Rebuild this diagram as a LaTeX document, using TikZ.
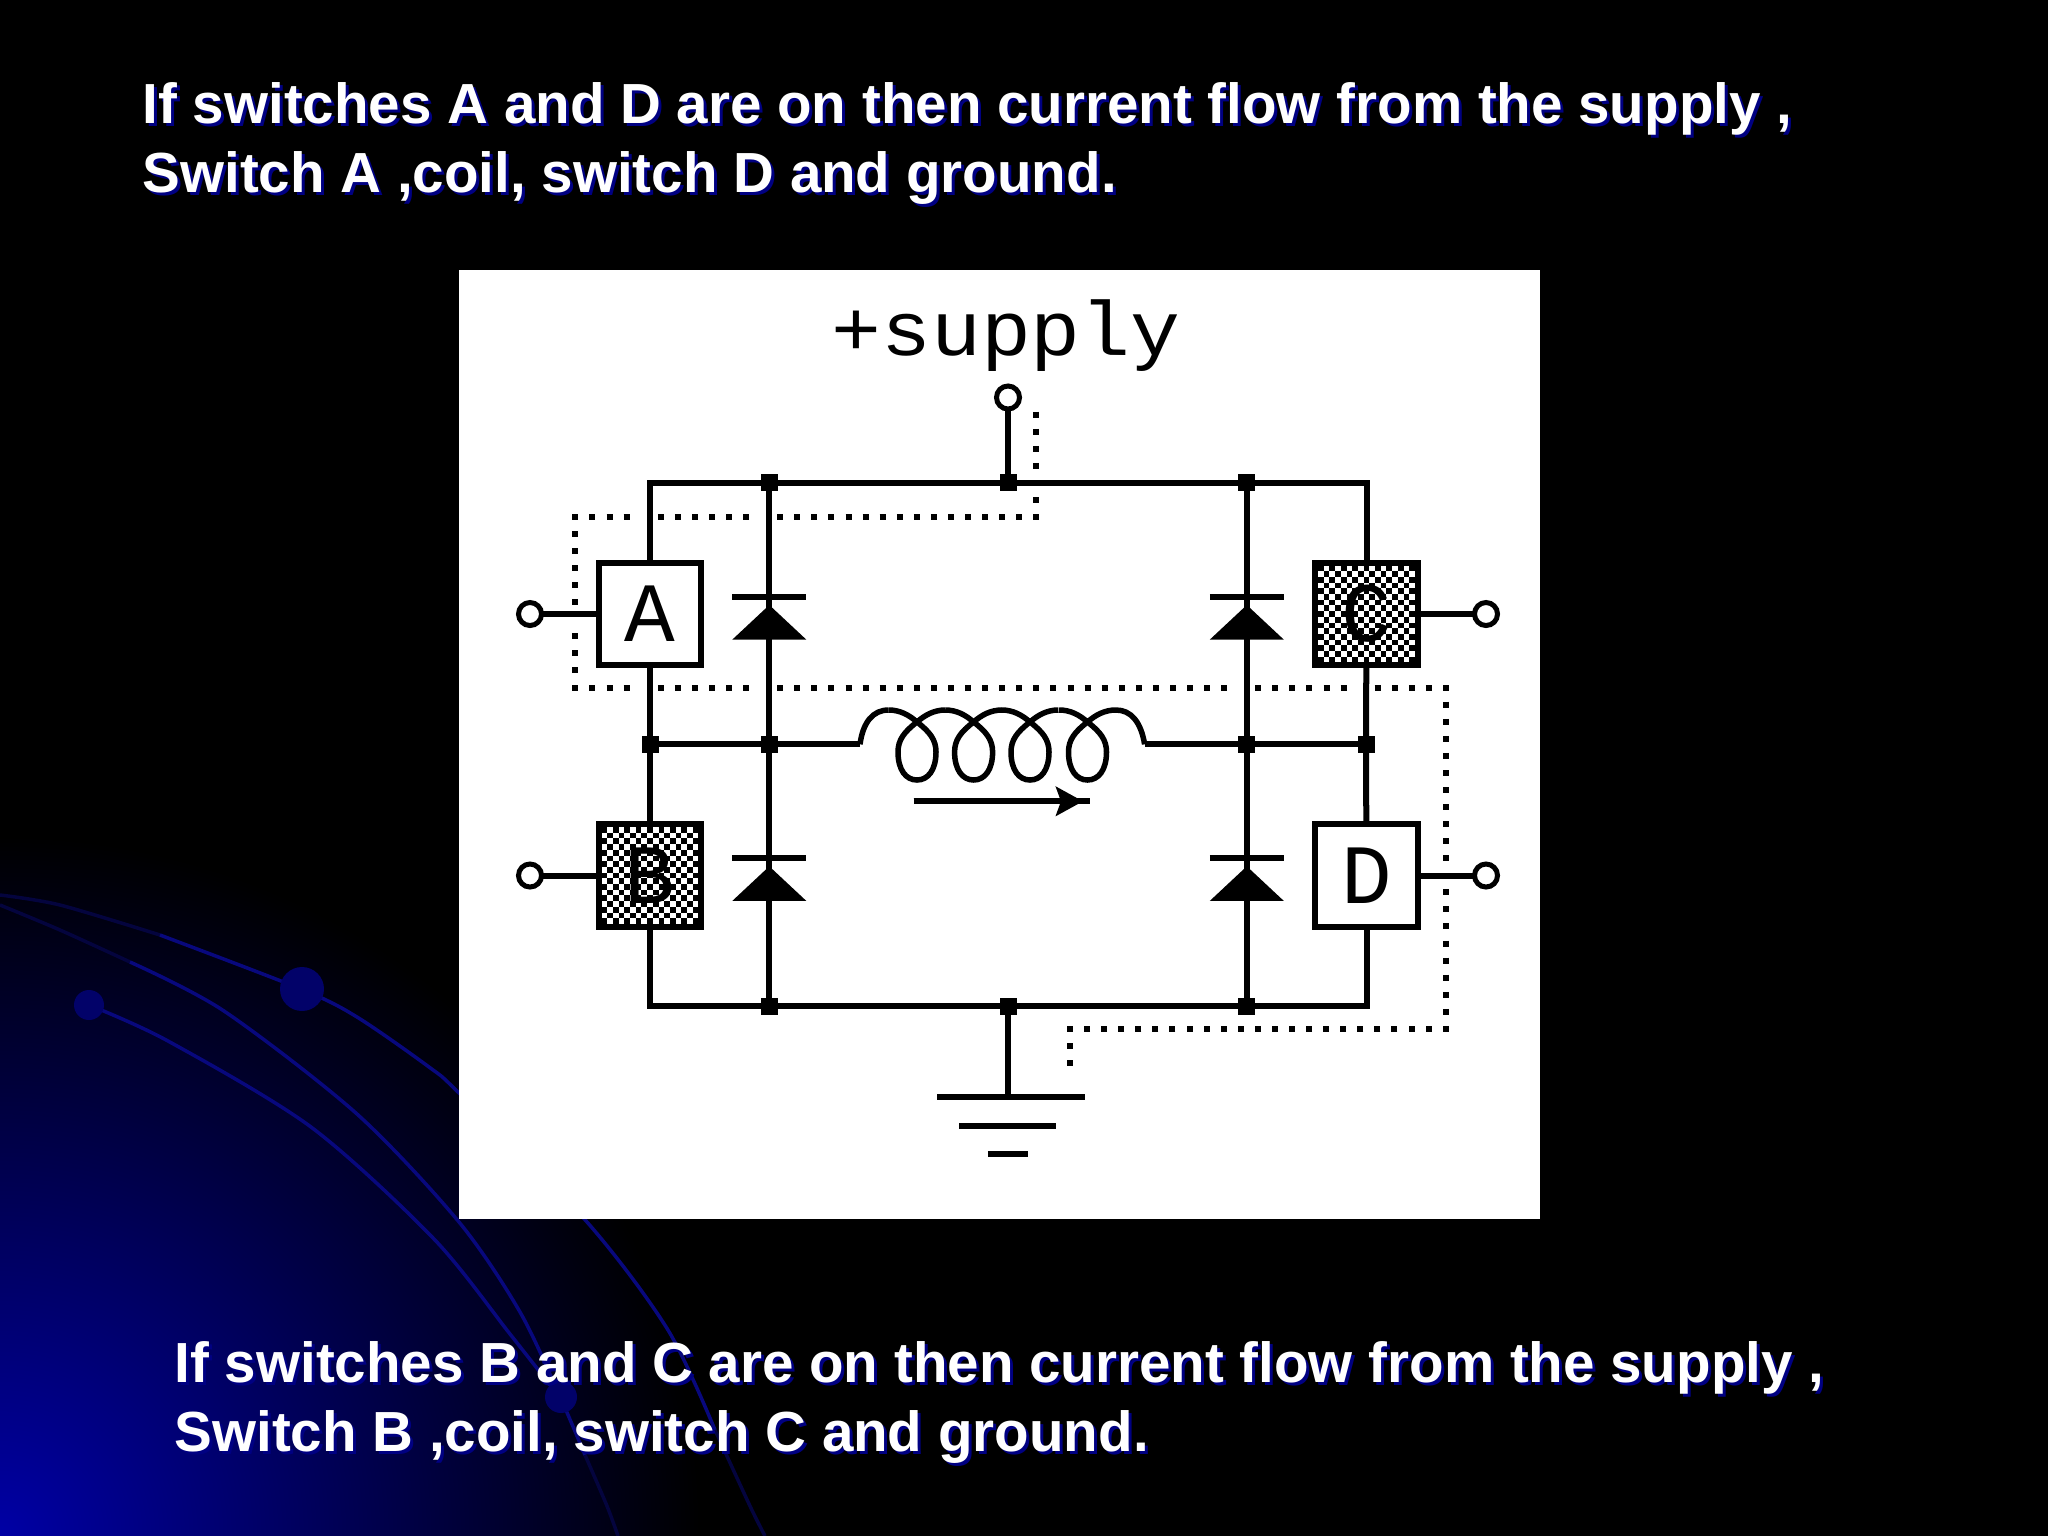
\documentclass[tikz,border=0pt]{standalone}
\usepackage{fontspec}
\usepackage{xcolor}
\setmainfont{Liberation Sans}
\newfontfamily\pixelfont{Liberation Mono}
\newfontfamily\labelfont[FakeStretch=1.08]{Liberation Mono}
\usetikzlibrary{arrows.meta}
\definecolor{slideblue}{RGB}{0,0,165}
\definecolor{slidemid}{RGB}{0,0,128}
\definecolor{curveblue}{RGB}{8,8,125}
\definecolor{curvefaint}{RGB}{4,4,62}
\definecolor{ballblue}{RGB}{2,2,105}
\definecolor{shadowblue}{RGB}{0,0,130}
\tikzset{
  wire/.style={line width=0.06cm},
  thinwire/.style={line width=0.055cm},
  switchbox/.style={draw,line width=0.06cm,fill=white,minimum size=1.02cm,inner sep=0pt,outer sep=0pt,
    font=\pixelfont\fontsize{24}{24}\selectfont},
  switchmark/.style={inner sep=0pt,font=\pixelfont\fontsize{24}{24}\selectfont},
  junction/.style={fill=black,minimum size=0.17cm,inner sep=0pt,outer sep=0pt},
  terminal/.style={draw,circle,line width=0.05cm,fill=white,minimum size=0.23cm,inner sep=0pt,outer sep=0pt},
  linkdots/.style={line width=0.06cm,dash pattern=on 0.06cm off 0.1107cm},
  slidetext/.style={anchor=north west,align=left,inner sep=0pt,text=white,
    font=\bfseries\fontsize{16.08}{19.5}\selectfont},
  slideshadow/.style={slidetext,text=shadowblue},
  bgcurve/.style={line width=0.035cm,curveblue},
  bgtail/.style={line width=0.035cm,curvefaint},
  diode/.pic={
    \draw[wire] (-37,-21.3) -- (37,-21.3);
    \fill (-37,21.6) -- (0,-13) -- (37,21.6) -- cycle;
  },
  coilturn/.pic={
    \draw[thinwire] (-28.4,-12) .. controls (-17,-12) and (-8,-7) .. (0,0)
      .. controls (13,10) and (19,18) .. (19,30) .. controls (19,48) and (11,58) .. (0,58)
      .. controls (-11,58) and (-19,48) .. (-19,30) .. controls (-19,18) and (-13,10) .. (0,0)
      .. controls (8,-7) and (17,-12) .. (28.4,-12);
  }
}
\newcommand{\checkfill}[2]{
  \foreach \r in {0,...,16} {
    \pgfmathsetmacro{\ph}{mod(\r,2)*0.057}
    \draw[line width=0.057cm,dash pattern=on 0.057cm off 0.057cm,dash phase=\ph cm]
      (#1-48.5,#2-45.6+5.7*\r) -- (#1+48.5,#2-45.6+5.7*\r);
  }
}
\begin{document}
\begin{tikzpicture}[x=0.01cm,y=-0.01cm]
  \fill[black] (0,0) rectangle (2048,1536);
  \useasboundingbox (0,0) rectangle (2048,1536);
  \begin{scope}
    \clip (0,0) rectangle (2048,1536);
    \shade[inner color=slideblue,middle color=slidemid,outer color=black] (0,1536) ellipse (700 and 700);
    \draw[bgtail] plot[smooth] coordinates {(0,895) (60,905) (160,935)};
    \draw[bgcurve] plot[smooth] coordinates {(160,935) (301,989) (357,1017) (429,1067) (459,1093) (587,1222) (668,1330) (715,1430)};
    \draw[bgtail] plot[smooth] coordinates {(715,1430) (750,1506) (765,1536)};
    \draw[bgtail] plot[smooth] coordinates {(0,905) (60,930) (130,962)};
    \draw[bgcurve] plot[smooth] coordinates {(130,962) (224,1011) (357,1114) (459,1222) (520,1312) (561,1399) (585,1455)};
    \draw[bgtail] plot[smooth] coordinates {(585,1455) (607,1506) (618,1536)};
    \draw[bgcurve] plot[smooth] coordinates {(89,1005) (168,1041) (311,1127) (434,1239) (510,1334) (561,1399)};
    \fill[ballblue] (302,989) circle (22);
    \fill[ballblue] (89,1005) circle (15);
    \fill[ballblue] (561,1397) circle (16);
  \end{scope}
  \fill[white] (459,270) rectangle (1540,1219);

  \node[anchor=base,inner sep=0pt,font=\labelfont\fontsize{21.9}{24}\selectfont] (supplylabel) at (1006,355) {+supply};

  \coordinate (cornerTL) at (650,482.7);
  \coordinate (cornerTR) at (1366,482.7);
  \node[junction] (jT1) at (769.3,482.7) {};
  \node[junction] (jT2) at (1008,482.7) {};
  \node[junction] (jT3) at (1246.8,482.7) {};
  \node[junction] (jM1) at (650,744.3) {};
  \node[junction] (jM2) at (769.3,744.3) {};
  \node[junction] (jM3) at (1246.8,744.3) {};
  \node[junction] (jM4) at (1366,744.3) {};
  \node[junction] (jB1) at (769.3,1006.3) {};
  \node[junction] (jB2) at (1008,1006.3) {};
  \node[junction] (jB3) at (1246.8,1006.3) {};

  \node[switchbox] (swA) at (650,614) {A};
  \node[switchbox] (swB) at (650,875.5) {};
  \node[switchbox] (swC) at (1366.5,614) {};
  \node[switchbox] (swD) at (1366.5,875.5) {D};
  \checkfill{650}{875.5}
  \checkfill{1366.5}{614}
  \node[switchmark] (markB) at (650,875.5) {B};
  \node[switchmark] (markC) at (1366.5,614) {C};

  \node[terminal] (tA) at (530,614) {};
  \node[terminal] (tB) at (530,875.5) {};
  \node[terminal] (tC) at (1486,614) {};
  \node[terminal] (tD) at (1486,875.5) {};
  \node[terminal] (tS) at (1008,397.5) {};

  % bridge wiring
  \draw[wire] (swA) |- (jT1.center) -- (jT2.center) -- (jT3.center) -| (swC);
  \draw[wire] (swB) |- (jB1.center) -- (jB2.center) -- (jB3.center) -| (swD);
  \draw[wire] (swA) -- (jM1.center) -- (swB);
  \draw[wire] (swC) -- (jM4.center) -- (swD);
  \draw[wire] (jT1.center) -- (jM2.center) -- (jB1.center);
  \draw[wire] (jT3.center) -- (jM3.center) -- (jB3.center);
  \draw[wire] (tS) -- (jT2.center);
  \draw[wire] (tA) -- (swA);
  \draw[wire] (tB) -- (swB);
  \draw[wire] (swC) -- (tC);
  \draw[wire] (swD) -- (tD);

  \pic at (769.3,618) {diode};
  \pic at (1246.8,618) {diode};
  \pic at (769.3,879.3) {diode};
  \pic at (1246.8,879.3) {diode};

  % coil
  \coordinate (coilL) at (860,744.3);
  \coordinate (coilR) at (1144.6,744.3);
  \draw[wire] (jM1.center) -- (jM2.center) -- (coilL);
  \draw[wire] (coilR) -- (jM3.center) -- (jM4.center);
  \foreach \x in {917,973.6,1030,1087.5}
    \pic at (\x,722) {coilturn};
  \draw[thinwire] (coilL) .. controls (863,722) and (873,710) .. (888.6,710);
  \draw[thinwire] (1115.9,710) .. controls (1131,710) and (1141,722) .. (coilR);

  % current arrow
  \coordinate (arrowS) at (913.6,801.3);
  \coordinate (arrowM) at (1083,801.3);
  \coordinate (arrowE) at (1090,801.3);
  \draw[wire] (arrowS) -- (arrowE);
  \draw[wire,-{Stealth[length=0.27cm,width=0.29cm,inset=0.05cm]}] (arrowS) -- (arrowM);

  % ground
  \coordinate (gnd1L) at (937,1097.3);
  \coordinate (gnd1R) at (1085,1097.3);
  \coordinate (gnd1M) at (1008,1097.3);
  \coordinate (gnd2L) at (959.3,1126);
  \coordinate (gnd2R) at (1056.4,1126);
  \coordinate (gnd3L) at (987.9,1154.3);
  \coordinate (gnd3R) at (1028,1154.3);
  \draw[wire] (jB2.center) -- (gnd1M);
  \draw[wire] (gnd1L) -- (gnd1R);
  \draw[wire] (gnd2L) -- (gnd2R);
  \draw[wire] (gnd3L) -- (gnd3R);

  % dotted link
  \draw[linkdots] (1036.4,411.7) -- (1036.4,468.7);
  \draw[linkdots] (1036.4,497) -- (1036.4,503);
  \draw[linkdots] (572.4,517) -- (629.6,517);
  \draw[linkdots] (657.8,517) -- (749.1,517);
  \draw[linkdots] (777.2,517) -- (1039.4,517);
  \draw[linkdots] (575.4,531) -- (575.4,605);
  \draw[linkdots] (575.4,633) -- (575.4,673);
  \draw[linkdots] (572.4,687.7) -- (629.6,687.7);
  \draw[linkdots] (657.8,687.7) -- (749.1,687.7);
  \draw[linkdots] (777.2,687.7) -- (1227.1,687.7);
  \draw[linkdots] (1255.2,687.7) -- (1346.6,687.7);
  \draw[linkdots] (1374.7,687.7) -- (1448.9,687.7);
  \draw[linkdots] (1445.7,701.7) -- (1445.7,861.3);
  \draw[linkdots] (1445.7,889.3) -- (1445.7,1032);
  \draw[linkdots] (1448.7,1029) -- (1067.4,1029);
  \draw[linkdots] (1070.4,1043) -- (1070.4,1066);

  % slide text
  \node[slideshadow] (topshadow) at (145,85) {If switches A and D are on then current flow from the supply ,\\Switch A ,coil, switch D and ground.};
  \node[slidetext] (toptext) at (142,82) {If switches A and D are on then current flow from the supply ,\\Switch A ,coil, switch D and ground.};
  \node[slideshadow] (bottomshadow) at (177,1344) {If switches B and C are on then current flow from the supply ,\\Switch B ,coil, switch C and ground.};
  \node[slidetext] (bottomtext) at (174,1341) {If switches B and C are on then current flow from the supply ,\\Switch B ,coil, switch C and ground.};
\end{tikzpicture}
\end{document}
